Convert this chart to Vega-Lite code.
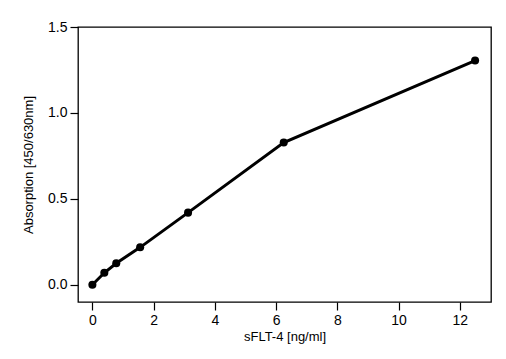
{
  "$schema": "https://vega.github.io/schema/vega-lite/v6.json",
  "width": 413,
  "height": 275,
  "autosize": {"type": "none"},
  "padding": {"left": 78, "top": 27, "right": 15, "bottom": 57},
  "background": "white",
  "config": {
    "font": "Liberation Sans",
    "view": {"stroke": "black", "strokeWidth": 1.3},
    "axis": {
      "grid": false,
      "domain": false,
      "ticks": true,
      "tickColor": "black",
      "tickSize": 8,
      "tickWidth": 1.2,
      "labelColor": "black",
      "labelFont": "Liberation Sans",
      "labelFontSize": 14,
      "titleFont": "Liberation Sans",
      "titleFontSize": 13,
      "titleFontWeight": "normal",
      "titleColor": "black"
    }
  },
  "data": {
    "values": [
      {"conc": 0, "abs": 0.0},
      {"conc": 0.39, "abs": 0.07},
      {"conc": 0.78, "abs": 0.125},
      {"conc": 1.56, "abs": 0.218},
      {"conc": 3.125, "abs": 0.42},
      {"conc": 6.25, "abs": 0.828},
      {"conc": 12.5, "abs": 1.305}
    ]
  },
  "encoding": {
    "x": {
      "field": "conc",
      "type": "quantitative",
      "scale": {"domain": [-0.47, 13.02], "nice": false, "zero": false},
      "axis": {"values": [0, 2, 4, 6, 8, 10, 12], "title": "sFLT-4 [ng/ml]", "labelPadding": 3, "titlePadding": 3, "format": "d"}
    },
    "y": {
      "field": "abs",
      "type": "quantitative",
      "scale": {"domain": [-0.1, 1.5], "nice": false, "zero": false},
      "axis": {"values": [0, 0.5, 1.0, 1.5], "format": ".1f", "title": "Absorption [450/630nm]", "labelPadding": 3, "titlePadding": 12}
    }
  },
  "layer": [
    {"mark": {"type": "line", "color": "black", "strokeWidth": 3}},
    {"mark": {"type": "point", "filled": true, "color": "black", "opacity": 1, "size": 65}}
  ]
}
